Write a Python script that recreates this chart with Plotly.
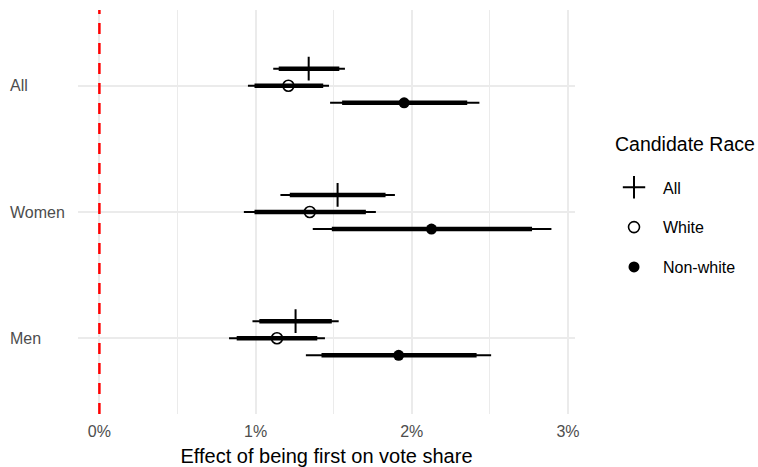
import plotly.graph_objects as go

# Subgroups on the vertical axis (top to bottom) and candidate race series
groups = ["All", "Women", "Men"]
group_pos = [3, 2, 1]
races = ["All", "White", "Non-white"]

# Point estimates (percentage points), ordered like `groups`
est_all = [1.340, 1.525, 1.256]
est_white = [1.210, 1.347, 1.137]
est_nonwhite = [1.951, 2.126, 1.916]

# 95% intervals (thin bars)
lo95_all = [1.113, 1.159, 0.980]
hi95_all = [1.572, 1.892, 1.532]
lo95_white = [0.951, 0.925, 0.830]
hi95_white = [1.470, 1.770, 1.444]
lo95_nonwhite = [1.477, 1.366, 1.322]
hi95_nonwhite = [2.433, 2.894, 2.508]

# 90% intervals (thick bars)
lo90_all = [1.148, 1.219, 1.024]
hi90_all = [1.536, 1.832, 1.488]
lo90_white = [0.993, 0.993, 0.879]
hi90_white = [1.433, 1.706, 1.395]
lo90_nonwhite = [1.554, 1.488, 1.422]
hi90_nonwhite = [2.355, 2.770, 2.415]

x_ticks = [0, 1, 2, 3]
x_tick_text = ["0%", "1%", "2%", "3%"]

series = [
    ("All", est_all, lo95_all, hi95_all, lo90_all, hi90_all, 0.135,
     dict(symbol="cross-thin", size=17, color="black", line=dict(width=2, color="black"))),
    ("White", est_white, lo95_white, hi95_white, lo90_white, hi90_white, 0.0,
     dict(symbol="circle-open", size=11, color="black", line=dict(width=1.6, color="black"))),
    ("Non-white", est_nonwhite, lo95_nonwhite, hi95_nonwhite, lo90_nonwhite, hi90_nonwhite, -0.135,
     dict(symbol="circle", size=11, color="black", line=dict(width=0))),
]

FONT = "Arial, Liberation Sans, sans-serif"
fig = go.Figure()


def segments(lo, hi, ys):
    xs, yy = [], []
    for a, b, y in zip(lo, hi, ys):
        xs += [a, b, None]
        yy += [y, y, None]
    return xs, yy


for name, est, lo95, hi95, lo90, hi90, off, marker in series:
    ys = [p + off for p in group_pos]
    x95, y95 = segments(lo95, hi95, ys)
    fig.add_trace(go.Scatter(x=x95, y=y95, mode="lines", line=dict(color="black", width=2),
                             showlegend=False, hoverinfo="skip"))
    x90, y90 = segments(lo90, hi90, ys)
    fig.add_trace(go.Scatter(x=x90, y=y90, mode="lines", line=dict(color="black", width=4.5),
                             showlegend=False, hoverinfo="skip"))

for name, est, lo95, hi95, lo90, hi90, off, marker in series:
    ys = [p + off for p in group_pos]
    fig.add_trace(go.Scatter(x=est, y=ys, mode="markers", marker=marker, name=name,
                             legendgroup=name))

# Reference line at zero effect
fig.add_vline(x=0, line=dict(color="red", width=2.5, dash="11px,9px"), layer="above")

# Left-aligned subgroup labels
for g, p in zip(groups, group_pos):
    fig.add_annotation(x=-0.14, xref="paper", y=p, yref="y", text=g, showarrow=False,
                       xanchor="left", yanchor="middle",
                       font=dict(family=FONT, size=16, color="#4D4D4D"))

# Legend heading
fig.add_annotation(x=1.0765, xref="paper", y=0.668, yref="paper", text="Candidate Race",
                   showarrow=False, xanchor="left", yanchor="middle",
                   font=dict(family=FONT, size=19.5, color="black"))

fig.update_layout(
    width=758, height=467,
    margin=dict(l=78, r=183, t=10, b=53),
    paper_bgcolor="white", plot_bgcolor="white",
    font=dict(family=FONT, size=16, color="#4D4D4D"),
    xaxis=dict(
        range=[-0.137, 3.045], tickvals=x_ticks, ticktext=x_tick_text,
        showgrid=True, gridcolor="#EBEBEB", gridwidth=2, zeroline=False,
        minor=dict(dtick=0.5, tick0=0, showgrid=True, gridcolor="#EBEBEB", gridwidth=1),
        showline=False, ticks="", ticklabelstandoff=6, automargin=False,
        tickfont=dict(family=FONT, size=16, color="#4D4D4D"),
        title=dict(text="Effect of being first on vote share", standoff=15,
                   font=dict(family=FONT, size=20, color="black")),
    ),
    yaxis=dict(
        range=[0.4, 3.6], tickvals=group_pos, showticklabels=False,
        showgrid=True, gridcolor="#EBEBEB", gridwidth=2, zeroline=False,
        showline=False, ticks="", automargin=False,
    ),
    legend=dict(
        x=1.0604, xanchor="left", y=0.603, yanchor="top",
        font=dict(family=FONT, size=16, color="black"),
        tracegroupgap=16, itemwidth=48, bgcolor="rgba(0,0,0,0)",
    ),
)

fig.write_html("out.html")
